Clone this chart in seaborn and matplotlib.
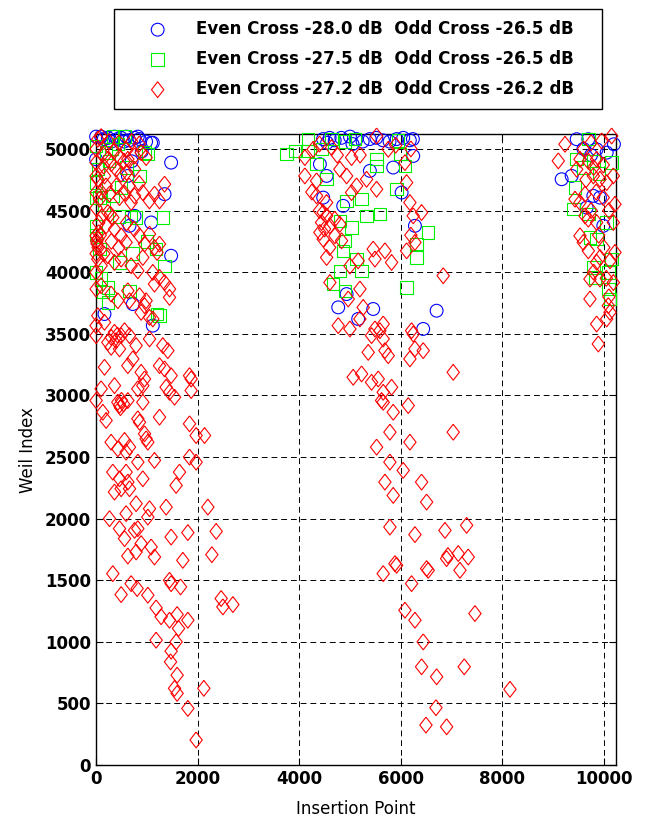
import matplotlib.pyplot as plt
import numpy as np
import pandas as pd
import seaborn as sns

# legend texts
legend_labels = ['Even Cross -28.0 dB  Odd Cross -26.5 dB',
                 'Even Cross -27.5 dB  Odd Cross -26.5 dB',
                 'Even Cross -27.2 dB  Odd Cross -26.2 dB']

#%% blue circles (insertion point, weil index)
blue_xy = np.array([
    (0, 5100), (99, 5100), (231, 5090), (362, 5100), (493, 5090), (591, 5100), (757, 5090),
    (855, 5080), (985, 5060), (1084, 5050), (1117, 5050), (822, 5100), (420, 5080), (300, 5060),
    (650, 5070), (150, 5080), (550, 5060),
    (0, 4916), (1478, 4889), (1348, 4633), (1084, 4403), (1478, 4133), (658, 4376), (757, 4457),
    (165, 3660), (723, 3741), (1117, 3566), (625, 4781), (700, 4900), (900, 4980),
    (4470, 5080), (4600, 5090), (4700, 5070), (4830, 5090), (5000, 5100), (5130, 5080),
    (5250, 5060), (5390, 5080), (5520, 5090), (5650, 5070), (5780, 5060), (5920, 5080),
    (6050, 5090), (6180, 5070), (6240, 5080), (4550, 5050), (5050, 5040),
    (6246, 4943), (5852, 4849), (5393, 4822), (4540, 4781), (4408, 4876), (4473, 4605),
    (4867, 4538), (6018, 4646), (6280, 4376), (4934, 3822), (4769, 3714), (5458, 3701),
    (5162, 3620), (6707, 3687), (6443, 3539),
    (9466, 5079), (9695, 5079), (10200, 5038), (9170, 4754), (9367, 4781), (9794, 4619),
    (9925, 4605), (9859, 4997), (10057, 4970), (9990, 4376), (9662, 4524), (9600, 5000),
    (9750, 4950)])

#%% green squares
green_xy = np.array([
    (329, 5100), (560, 5100), (0, 5024), (197, 4970), (33, 4835), (0, 4727), (67, 4605),
    (329, 4619), (855, 4781), (1019, 4957), (954, 4970), (493, 4686), (0, 4376), (67, 4187),
    (690, 4457), (788, 4443), (1314, 4443), (1182, 4187), (1348, 4052), (461, 4079), (0, 3998),
    (231, 3755), (231, 3876), (658, 3849), (1249, 3647), (1200, 3660), (132, 3841), (430, 5040),
    (250, 4900), (600, 4850), (150, 4550), (450, 4450), (0, 4300), (100, 3950), (720, 4150),
    (1000, 4250), (300, 5000), (0, 4600),
    (3752, 4957), (3915, 4984), (4178, 5079), (4178, 4984), (4343, 4876), (4540, 4754),
    (5525, 4916), (5525, 4862), (5984, 4957), (6083, 4862), (5919, 4673), (4934, 4578),
    (5229, 4592), (5328, 4457), (5590, 4470), (4802, 4416), (5032, 4362), (4901, 4255),
    (6542, 4322), (6313, 4228), (6313, 4119), (4867, 4173), (5131, 4106), (4802, 4011),
    (5229, 4011), (4670, 3903), (4901, 3849), (6116, 3876), (4640, 5080), (4900, 5060),
    (5100, 5080), (5950, 5070), (4450, 5000),
    (9695, 5079), (9466, 4916), (10155, 4889), (9433, 4686), (9400, 4511), (9695, 4470),
    (10057, 4403), (9728, 4281), (9859, 4268), (10155, 4106), (9794, 4038), (9826, 3957),
    (10089, 3998), (10089, 3863), (10122, 3782), (9900, 4800), (9600, 4850), (9800, 4900)])

#%% red diamonds
red_xy = np.array([
    # left group, top
    (33, 5079), (132, 4957), (231, 4916), (362, 4984), (461, 4930), (591, 4997), (625, 4916),
    (757, 4943), (887, 4970), (985, 4930), (33, 4754), (165, 4781), (197, 4700), (394, 4835),
    (493, 4795), (600, 4810), (757, 4835), (0, 4889), (0, 4646), (67, 4592), (264, 4633),
    (461, 4605), (560, 4640), (757, 4619), (920, 4646), (1150, 4633), (1348, 4714), (1249, 4578),
    (1050, 4578), (690, 4565), (231, 4484), (329, 4443), (280, 4470), (0, 4295), (33, 4268),
    (50, 4320), (20, 4230), (10, 4250), (40, 4200), (197, 4376), (362, 4349), (493, 4295),
    (591, 4241), (855, 4295), (954, 4228), (1052, 4309), (1150, 4200), (1249, 4228), (1200, 4160),
    (33, 4106), (99, 4052), (0, 3998), (231, 4133), (362, 4079), (493, 4106), (690, 4052),
    (822, 4011), (920, 4119), (1117, 3998), (1249, 3957), (1150, 3903), (1348, 3916), (1446, 3863),
    (1446, 3795), (0, 3863), (99, 3890), (296, 3822), (428, 3768), (625, 3849), (658, 3768),
    (855, 3809), (985, 3768), (954, 3728), (887, 3674), (1052, 3633), (1117, 3620), (33, 3647),
    (165, 3593), (0, 3566), (362, 3512), (420, 3490), (300, 3470),
    (100, 5100), (250, 5060), (450, 5050), (700, 5060), (850, 5040), (0, 5000), (300, 4880),
    (550, 4900), (150, 4860), (0, 4780), (400, 4700), (650, 4700), (850, 4720), (100, 4650),
    (0, 4520), (120, 4450), (50, 4400), (600, 4400), (750, 4350), (300, 4250), (450, 4200),
    (150, 4150), (0, 4150), (80, 4300),
    # left group, middle
    (0, 3485), (165, 3228), (231, 3430), (296, 3390), (394, 3444), (461, 3377), (493, 3485),
    (560, 3525), (658, 3485), (625, 3241), (723, 3296), (788, 3404), (887, 3187), (954, 3133),
    (920, 3079), (822, 3053), (1052, 3458), (1314, 3404), (1413, 3363), (1249, 3241),
    (1348, 3215), (1478, 3160), (1379, 3066), (1446, 3025), (1545, 2985), (1840, 3160),
    (1872, 3133), (1872, 3039), (0, 2958), (99, 3053), (362, 3079), (428, 2944), (460, 2920),
    (500, 2960), (540, 2930), (480, 2900), (625, 2958), (920, 2944), (132, 2863), (197, 2796),
    (822, 2810), (855, 2782), (1249, 2823), (1840, 2769), (1970, 2674), (2136, 2674), (296, 2620),
    (428, 2566), (560, 2634), (591, 2539), (658, 2580), (954, 2688), (985, 2647), (1019, 2620),
    (1150, 2472), (822, 2458), (1840, 2499), (1970, 2458), (329, 2377), (461, 2323), (591, 2377),
    (625, 2296), (920, 2323), (1643, 2377), (1576, 2269), (362, 2215), (493, 2242), (658, 2242),
    (788, 2121), (1379, 2093), (1052, 2080), (2201, 2093), (264, 1999), (591, 2040), (1019, 2012),
    # left group, bottom
    (461, 1918), (560, 1837), (757, 1904), (822, 1918), (887, 1797), (788, 1729), (625, 1696),
    (1084, 1769), (1150, 1688), (1478, 1850), (1807, 1886), (2365, 1896), (2280, 1707),
    (1708, 1661), (329, 1553), (690, 1472), (808, 1432), (493, 1383), (1019, 1378), (1182, 1275),
    (1281, 1203), (1446, 1499), (1478, 1472), (1663, 1445), (1596, 1221), (1446, 1175),
    (1807, 1175), (1624, 1108), (1182, 1013), (1576, 999), (1478, 924), (1466, 837), (1596, 729),
    (1545, 622), (1596, 581), (1807, 459), (2122, 622), (2463, 1351), (2497, 1283), (2694, 1302),
    (1970, 203),
    # middle group
    (4276, 4997), (4638, 5011), (5525, 5105), (4112, 4930), (5032, 4930), (5754, 4997),
    (6083, 4889), (4112, 4781), (4343, 4741), (4802, 4835), (4934, 4781), (5131, 4700),
    (5328, 4754), (5525, 4673), (5032, 4646), (4343, 4619), (4540, 4565), (6116, 4727),
    (6181, 4565), (4473, 4484), (4540, 4457), (4441, 4403), (4802, 4389), (4700, 4430),
    (4605, 4376), (4408, 4322), (4473, 4268), (4704, 4295), (4835, 4255), (4540, 4119),
    (5458, 4187), (5689, 4173), (5492, 4106), (5820, 4079), (5162, 4092), (6246, 4457),
    (6411, 4484), (6116, 4173), (6280, 4241), (6837, 3971), (4605, 3916), (5196, 3863),
    (4966, 3782), (5261, 3714), (5196, 3620), (4769, 3566), (4999, 3539), (5655, 3579),
    (5492, 3539), (6214, 3525), (4400, 5040), (4750, 4950), (5200, 4950), (5900, 5030),
    (6200, 5000), (4250, 4650), (4600, 4200), (4500, 4350), (6200, 4300), (5000, 4050),
    (4400, 4500),
    (5426, 3485), (5590, 3525), (5655, 3458), (6246, 3498), (5360, 3349), (5689, 3363),
    (5754, 3322), (6280, 3377), (6443, 3363), (6181, 3296), (7034, 3187), (5064, 3147),
    (5229, 3174), (5426, 3106), (5557, 3133), (5820, 3066), (5655, 3025), (5623, 2958),
    (5655, 2944), (5852, 2863), (6148, 2917), (5787, 2701), (5525, 2580), (6181, 2620),
    (7034, 2701), (5787, 2458), (6049, 2391), (5689, 2296), (6411, 2296), (5852, 2188),
    (6510, 2134), (5787, 1931), (6280, 1870), (6871, 1904), (7298, 1945),
    (6904, 1675), (6930, 1700), (7133, 1716), (7330, 1688), (7167, 1580), (5886, 1634),
    (5919, 1621), (5655, 1553), (6510, 1594), (6542, 1580), (6214, 1472), (6083, 1256),
    (6280, 1175), (7462, 1229), (6443, 999), (6411, 797), (6707, 716), (7251, 797), (8152, 614),
    (6694, 465), (6497, 324), (6904, 310),
    # right group
    (9236, 5038), (10155, 5105), (9104, 4903), (9958, 5065), (9531, 4916), (9695, 4900),
    (9859, 4916), (9990, 4870), (10188, 4781), (9466, 4835), (9794, 4781), (9925, 4754),
    (10057, 4727), (9630, 4633), (9433, 4592), (9531, 4565), (10220, 4551), (9990, 4605),
    (9630, 4457), (9695, 4430), (9859, 4403), (10188, 4403), (9531, 4295), (9597, 4241),
    (9695, 4173), (9925, 4119), (10122, 4092), (10220, 4160), (9859, 4080), (9728, 3944),
    (9925, 3944), (10188, 3916), (9728, 3782), (10089, 3728), (10122, 3674), (10057, 3620),
    (9859, 3579), (9892, 3417), (9600, 5000), (9750, 5050), (9800, 4850), (9650, 4750),
    (9850, 4650), (10100, 4500), (9750, 4500), (9900, 4300), (10000, 4200), (9800, 4000),
    (10050, 3950), (10100, 3800)])

x_ticks = [0, 2000, 4000, 6000, 8000, 10000]
y_ticks = [0, 500, 1000, 1500, 2000, 2500, 3000, 3500, 4000, 4500, 5000]

#%% figure
sns.set_style("ticks")
plt.rcParams['font.family'] = ['DejaVu Sans']
plt.rcParams['text.color'] = 'black'
plt.rcParams['axes.labelcolor'] = 'black'

fig, ax = plt.subplots(figsize=(6.45, 8.23), dpi=100)
fig.subplots_adjust(left=0.149, right=0.955, bottom=0.0705, top=0.837)

diamond = [(0, 1), (0.78, 0), (0, -1), (-0.78, 0), (0, 1)]
series = [(blue_xy, 'o', 85, 'blue'),
          (green_xy, 's', 80, '#00f000'),
          (red_xy, diamond, 130, 'red')]
for (pts, mk, size, col), lab in zip(series, legend_labels):
    df = pd.DataFrame({'x': pts[:, 0], 'y': pts[:, 1]})
    sns.scatterplot(data=df, x='x', y='y', marker=mk, s=size, facecolor='none',
                    edgecolor=col, linewidth=0.8, label=lab, clip_on=False, ax=ax, zorder=3)

ax.set_xlim(0, 10240)
ax.set_ylim(0, 5120)
ax.set_xticks(x_ticks)
ax.set_yticks(y_ticks)
ax.grid(True, color='black', linestyle=(0, (6, 4)), linewidth=0.7)
ax.tick_params(direction='in', length=5, top=True, right=True, labelsize=12, colors='black')
plt.setp(ax.get_xticklabels() + ax.get_yticklabels(), fontweight='bold')
for sp in ax.spines.values():
    sp.set_color('black')
    sp.set_linewidth(1.0)
ax.set_xlabel('Insertion Point', fontsize=12, labelpad=9)
ax.set_ylabel('Weil Index', fontsize=12, labelpad=6)

leg = ax.legend(loc='upper left', bbox_to_anchor=(0.177, 0.870, 0.756, 0.119),
                bbox_transform=fig.transFigure, mode='expand', fancybox=False,
                borderaxespad=0, framealpha=1, edgecolor='black', borderpad=0.66,
                labelspacing=0.72, handlelength=3.9, handletextpad=0.35,
                prop={'weight': 'bold', 'size': 12})
leg.get_frame().set_linewidth(1.0)

plt.savefig('out.png', dpi=100)
